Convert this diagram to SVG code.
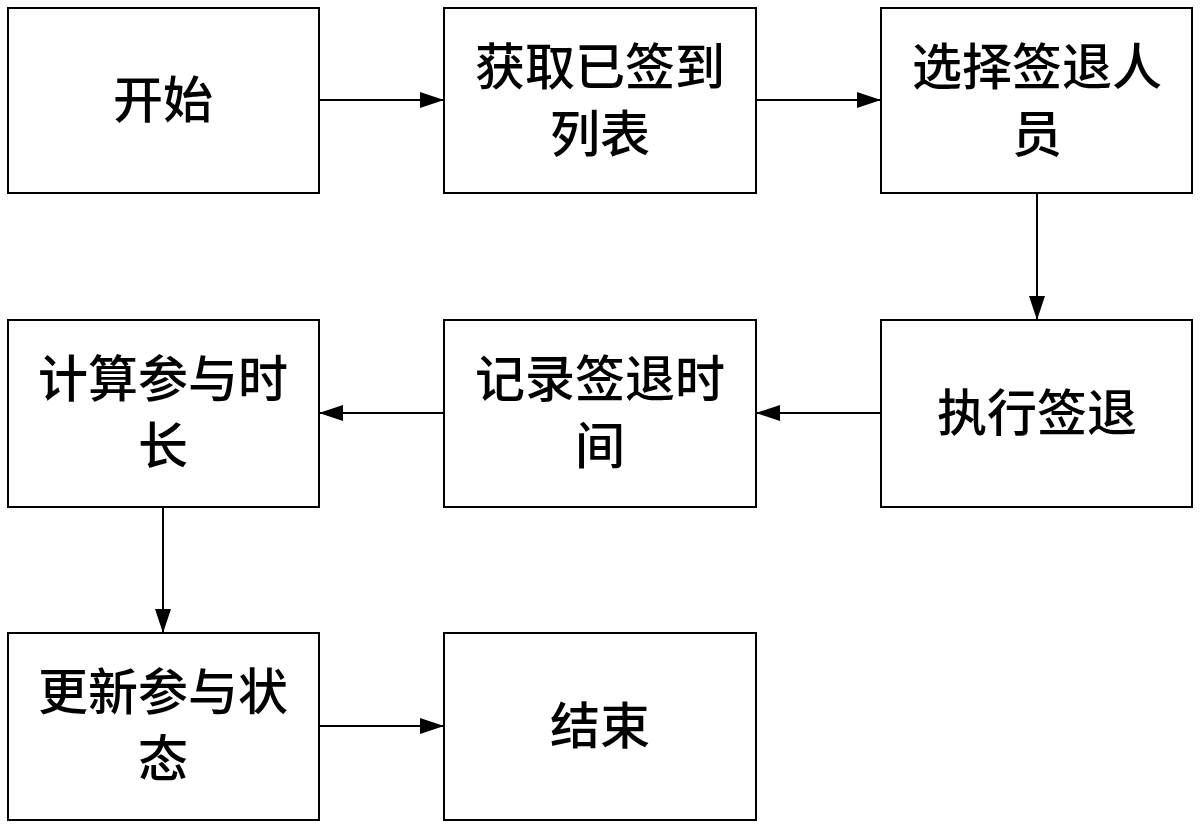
<svg xmlns="http://www.w3.org/2000/svg" width="1200" height="825" viewBox="0 0 1200 825">
<style>
.b{fill:#fff;stroke:#000;stroke-width:2}
.t{font-family:"Noto Sans CJK SC","Liberation Sans",sans-serif;font-size:50px;font-weight:500;text-anchor:middle;fill:#000}
.c{stroke:#000;stroke-width:2;fill:none;marker-end:url(#a)}
</style>
<defs><marker id="a" markerWidth="24" markerHeight="16" refX="24" refY="8" orient="auto" markerUnits="userSpaceOnUse"><path d="M0,0L24,8L0,16z" fill="#000"/></marker></defs>
<rect width="1200" height="825" fill="#fff"/>
<g id="n1"><rect class="b" x="8" y="8" width="311" height="185"/><text class="t" x="163" y="118">开始</text></g>
<g id="n2"><rect class="b" x="444" y="8" width="312" height="185"/><text class="t" x="600" y="85">获取已签到</text><text class="t" x="600" y="152">列表</text></g>
<g id="n3"><rect class="b" x="881" y="8" width="311" height="185"/><text class="t" x="1037" y="85">选择签退人</text><text class="t" x="1037" y="152">员</text></g>
<g id="n4"><rect class="b" x="881" y="320" width="311" height="187"/><text class="t" x="1037" y="431">执行签退</text></g>
<g id="n5"><rect class="b" x="444" y="320" width="312" height="187"/><text class="t" x="600" y="397">记录签退时</text><text class="t" x="600" y="464">间</text></g>
<g id="n6"><rect class="b" x="8" y="320" width="311" height="187"/><text class="t" x="163" y="397">计算参与时</text><text class="t" x="163" y="464">长</text></g>
<g id="n7"><rect class="b" x="8" y="633" width="311" height="187"/><text class="t" x="163" y="710">更新参与状</text><text class="t" x="163" y="777">态</text></g>
<g id="n8"><rect class="b" x="444" y="633" width="312" height="187"/><text class="t" x="600" y="744">结束</text></g>
<g id="connectors">
<path class="c" d="M319,100H444"/>
<path class="c" d="M756,100H881"/>
<path class="c" d="M1037,193V320"/>
<path class="c" d="M881,413H756"/>
<path class="c" d="M444,413H319"/>
<path class="c" d="M163,507V633"/>
<path class="c" d="M319,726H444"/>
</g>
</svg>
